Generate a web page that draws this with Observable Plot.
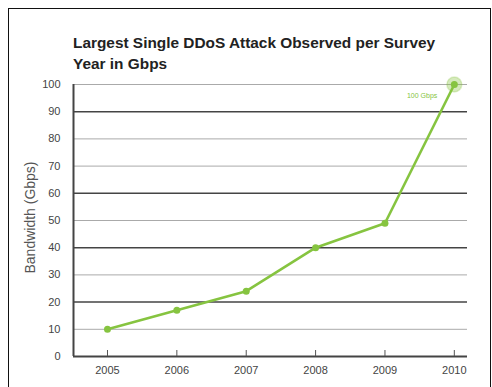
<!DOCTYPE html>
<html>
<head>
<meta charset="utf-8">
<script src="https://cdn.jsdelivr.net/npm/d3@7"></script>
<script src="https://cdn.jsdelivr.net/npm/@observablehq/plot@0.6"></script>
<style>
  html, body { margin: 0; padding: 0; background: #fff; }
  #wrap { position: relative; width: 492px; height: 387px; overflow: hidden; font-family: "Liberation Sans", Arial, sans-serif; }
  #frame { position: absolute; left: 8px; top: 8px; width: 481px; height: 400px; border: 1.5px solid #111; border-bottom: none; pointer-events: none; }
  #title { position: absolute; left: 73px; top: 32px; font-size: 15.4px; font-weight: bold; line-height: 21px; color: #222; }
</style>
</head>
<body>
<div id="wrap">
  <div id="chart"></div>
  <div id="frame"></div>
  <div id="title">Largest Single DDoS Attack Observed per Survey<br>Year in Gbps</div>
</div>
<script>
const years = [2005, 2006, 2007, 2008, 2009, 2010];
const gbps = [10, 17, 24, 40, 49, 100];
const yTicks = [0, 10, 20, 30, 40, 50, 60, 70, 80, 90, 100];
const darkGrid = [20, 40, 60, 90];
const lightGrid = [10, 30, 50, 70, 80, 100];
const peakLabel = "100 Gbps";
const yLabel = "Bandwidth (Gbps)";

const data = years.map((y, i) => ({year: y, value: gbps[i]}));
const green = "#86c440";
const xDomain = [2004.51, 2010.19];

const chart = Plot.plot({
  width: 492,
  height: 387,
  marginTop: 84,
  marginBottom: 31,
  marginLeft: 73,
  marginRight: 25,
  style: {fontFamily: "Liberation Sans, Arial, sans-serif", fontSize: "11px", color: "#444", background: "transparent"},
  x: {domain: xDomain, ticks: years, tickFormat: "d", tickSize: 0, tickPadding: 10, label: null},
  y: {domain: [0, 100], ticks: yTicks, tickSize: 0, tickPadding: 13, label: null},
  marks: [
    Plot.ruleY(lightGrid, {stroke: "#aaa", strokeWidth: 1}),
    Plot.ruleY(darkGrid, {stroke: "#444", strokeWidth: 1.5}),
    Plot.ruleY([0], {stroke: "#444", strokeWidth: 2}),
    Plot.ruleX([xDomain[0]], {y1: 0, y2: 100, stroke: "#444", strokeWidth: 2}),
    Plot.ruleX(years, {y1: 0, y2: 0, insetTop: -6, stroke: "#555", strokeWidth: 1}),
    Plot.text([yLabel], {frameAnchor: "left", textAnchor: "middle", rotate: -90, dx: -43, dy: -3, fontSize: 14, fill: "#555"}),
    Plot.line(data, {x: "year", y: "value", stroke: green, strokeWidth: 2.6}),
    Plot.dot(data.slice(-1), {x: "year", y: "value", r: 7.5, fill: green, fillOpacity: 0.35, stroke: green, strokeOpacity: 0.25}),
    Plot.dot(data, {x: "year", y: "value", r: 3.5, fill: green}),
    Plot.text(data.slice(-1), {x: "year", y: "value", text: () => peakLabel, textAnchor: "end", dx: -17, dy: 11, fill: green, fontSize: 7})
  ]
});
document.getElementById("chart").appendChild(chart);
</script>
</body>
</html>
